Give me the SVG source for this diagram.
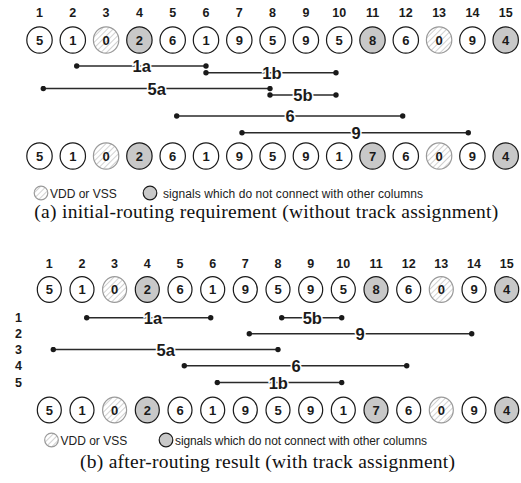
<svg xmlns="http://www.w3.org/2000/svg" width="521" height="483" viewBox="0 0 521 483">
<defs>
<pattern id="hatch" patternUnits="userSpaceOnUse" width="4" height="4" patternTransform="rotate(45)">
<rect width="4" height="4" fill="#fff"/>
<line x1="0" y1="0" x2="0" y2="4" stroke="#bdbdbd" stroke-width="1.4"/>
</pattern>
<marker id="dot" viewBox="0 0 6 6" refX="3" refY="3" markerWidth="6" markerHeight="6" markerUnits="userSpaceOnUse">
<circle cx="3" cy="3" r="2.7" fill="#1a1a1a"/>
</marker>
</defs>
<style>
.col{font-family:"Liberation Sans",Arial,sans-serif;font-weight:bold;font-size:12.5px;fill:#1a1a1a;text-anchor:middle}
.pin ellipse{fill:#fff;stroke:#1a1a1a;stroke-width:1.2}
.pin.g ellipse{fill:#c8c8c8}
.pin.h ellipse{fill:url(#hatch);stroke:#9a9a9a}
.pin text{font-family:"Liberation Sans",Arial,sans-serif;font-weight:bold;font-size:13px;fill:#1a1a1a;text-anchor:middle}
.seg line{stroke:#2a2a2a;stroke-width:1.4;marker-start:url(#dot);marker-end:url(#dot)}
.seg text{font-family:"Liberation Sans",Arial,sans-serif;font-weight:bold;font-size:16.5px;fill:#1a1a1a;text-anchor:middle;stroke:#fff;stroke-width:3;paint-order:stroke}
.trk{font-family:"Liberation Sans",Arial,sans-serif;font-weight:bold;font-size:12.5px;fill:#1a1a1a}
.leg{font-family:"Liberation Sans",Arial,sans-serif;font-size:12px;fill:#222}
.cap{font-family:"Liberation Serif","Times New Roman",serif;font-size:19.5px;fill:#111}
</style>

<!-- ===== (a) ===== -->
<g id="a-colnums" class="col">
<text x="39.5" y="16.5">1</text><text x="72.8" y="16.5">2</text><text x="106.1" y="16.5">3</text><text x="139.4" y="16.5">4</text><text x="172.7" y="16.5">5</text><text x="206" y="16.5">6</text><text x="239.3" y="16.5">7</text><text x="272.6" y="16.5">8</text><text x="305.9" y="16.5">9</text><text x="339.2" y="16.5">10</text><text x="372.5" y="16.5">11</text><text x="405.8" y="16.5">12</text><text x="439.1" y="16.5">13</text><text x="472.4" y="16.5">14</text><text x="505.7" y="16.5">15</text>
</g>
<g id="a-top">
<g id="a-t1" class="pin"><ellipse cx="39.5" cy="40" rx="12.7" ry="13.2"/><text x="39.5" y="44.7">5</text></g>
<g id="a-t2" class="pin"><ellipse cx="72.8" cy="40" rx="12.7" ry="13.2"/><text x="72.8" y="44.7">1</text></g>
<g id="a-t3" class="pin h"><ellipse cx="106.1" cy="40" rx="12.7" ry="13.2"/><text x="106.1" y="44.7">0</text></g>
<g id="a-t4" class="pin g"><ellipse cx="139.4" cy="40" rx="12.7" ry="13.2"/><text x="139.4" y="44.7">2</text></g>
<g id="a-t5" class="pin"><ellipse cx="172.7" cy="40" rx="12.7" ry="13.2"/><text x="172.7" y="44.7">6</text></g>
<g id="a-t6" class="pin"><ellipse cx="206" cy="40" rx="12.7" ry="13.2"/><text x="206" y="44.7">1</text></g>
<g id="a-t7" class="pin"><ellipse cx="239.3" cy="40" rx="12.7" ry="13.2"/><text x="239.3" y="44.7">9</text></g>
<g id="a-t8" class="pin"><ellipse cx="272.6" cy="40" rx="12.7" ry="13.2"/><text x="272.6" y="44.7">5</text></g>
<g id="a-t9" class="pin"><ellipse cx="305.9" cy="40" rx="12.7" ry="13.2"/><text x="305.9" y="44.7">9</text></g>
<g id="a-t10" class="pin"><ellipse cx="339.2" cy="40" rx="12.7" ry="13.2"/><text x="339.2" y="44.7">5</text></g>
<g id="a-t11" class="pin g"><ellipse cx="372.5" cy="40" rx="12.7" ry="13.2"/><text x="372.5" y="44.7">8</text></g>
<g id="a-t12" class="pin"><ellipse cx="405.8" cy="40" rx="12.7" ry="13.2"/><text x="405.8" y="44.7">6</text></g>
<g id="a-t13" class="pin h"><ellipse cx="439.1" cy="40" rx="12.7" ry="13.2"/><text x="439.1" y="44.7">0</text></g>
<g id="a-t14" class="pin"><ellipse cx="472.4" cy="40" rx="12.7" ry="13.2"/><text x="472.4" y="44.7">9</text></g>
<g id="a-t15" class="pin g"><ellipse cx="505.7" cy="40" rx="12.7" ry="13.2"/><text x="505.7" y="44.7">4</text></g>
</g>
<g id="a-connectors">
<g id="a-1a" class="seg"><line x1="76.7" y1="66" x2="206" y2="66"/><text x="141.7" y="72">1a</text></g>
<g id="a-1b" class="seg"><line x1="206" y1="72.7" x2="336" y2="72.7"/><text x="272" y="78.7">1b</text></g>
<g id="a-5a" class="seg"><line x1="43.3" y1="88.5" x2="270" y2="88.5"/><text x="156.7" y="94.5">5a</text></g>
<g id="a-5b" class="seg"><line x1="270" y1="95" x2="336" y2="95"/><text x="303" y="101">5b</text></g>
<g id="a-6" class="seg"><line x1="176.7" y1="116" x2="402.7" y2="116"/><text x="290" y="122">6</text></g>
<g id="a-9" class="seg"><line x1="242" y1="132.7" x2="468.3" y2="132.7"/><text x="356" y="138.7">9</text></g>
</g>
<g id="a-bottom">
<g id="a-b1" class="pin"><ellipse cx="39.5" cy="156" rx="12.7" ry="13.2"/><text x="39.5" y="160.7">5</text></g>
<g id="a-b2" class="pin"><ellipse cx="72.8" cy="156" rx="12.7" ry="13.2"/><text x="72.8" y="160.7">1</text></g>
<g id="a-b3" class="pin h"><ellipse cx="106.1" cy="156" rx="12.7" ry="13.2"/><text x="106.1" y="160.7">0</text></g>
<g id="a-b4" class="pin g"><ellipse cx="139.4" cy="156" rx="12.7" ry="13.2"/><text x="139.4" y="160.7">2</text></g>
<g id="a-b5" class="pin"><ellipse cx="172.7" cy="156" rx="12.7" ry="13.2"/><text x="172.7" y="160.7">6</text></g>
<g id="a-b6" class="pin"><ellipse cx="206" cy="156" rx="12.7" ry="13.2"/><text x="206" y="160.7">1</text></g>
<g id="a-b7" class="pin"><ellipse cx="239.3" cy="156" rx="12.7" ry="13.2"/><text x="239.3" y="160.7">9</text></g>
<g id="a-b8" class="pin"><ellipse cx="272.6" cy="156" rx="12.7" ry="13.2"/><text x="272.6" y="160.7">5</text></g>
<g id="a-b9" class="pin"><ellipse cx="305.9" cy="156" rx="12.7" ry="13.2"/><text x="305.9" y="160.7">9</text></g>
<g id="a-b10" class="pin"><ellipse cx="339.2" cy="156" rx="12.7" ry="13.2"/><text x="339.2" y="160.7">1</text></g>
<g id="a-b11" class="pin g"><ellipse cx="372.5" cy="156" rx="12.7" ry="13.2"/><text x="372.5" y="160.7">7</text></g>
<g id="a-b12" class="pin"><ellipse cx="405.8" cy="156" rx="12.7" ry="13.2"/><text x="405.8" y="160.7">6</text></g>
<g id="a-b13" class="pin h"><ellipse cx="439.1" cy="156" rx="12.7" ry="13.2"/><text x="439.1" y="160.7">0</text></g>
<g id="a-b14" class="pin"><ellipse cx="472.4" cy="156" rx="12.7" ry="13.2"/><text x="472.4" y="160.7">9</text></g>
<g id="a-b15" class="pin g"><ellipse cx="505.7" cy="156" rx="12.7" ry="13.2"/><text x="505.7" y="160.7">4</text></g>
</g>
<g id="a-legend">
<g class="pin h"><ellipse cx="41" cy="193" rx="6.8" ry="6.8"/></g>
<text class="leg" x="50" y="197.5">VDD or VSS</text>
<g class="pin g"><ellipse cx="150" cy="193" rx="6.8" ry="6.8"/></g>
<text class="leg" x="163" y="197.5" textLength="260" lengthAdjust="spacing">signals which do not connect with other columns</text>
</g>
<text id="a-caption" class="cap" x="34.3" y="218" textLength="464" lengthAdjust="spacing">(a) initial-routing requirement (without track assignment)</text>

<!-- ===== (b) ===== -->
<g id="b-colnums" class="col">
<text x="49.3" y="268">1</text><text x="82" y="268">2</text><text x="114.6" y="268">3</text><text x="147.3" y="268">4</text><text x="180" y="268">5</text><text x="212.7" y="268">6</text><text x="245.3" y="268">7</text><text x="278" y="268">8</text><text x="310.7" y="268">9</text><text x="343.3" y="268">10</text><text x="376" y="268">11</text><text x="408.7" y="268">12</text><text x="441.3" y="268">13</text><text x="474" y="268">14</text><text x="506.7" y="268">15</text>
</g>
<g id="b-top">
<g id="b-t1" class="pin"><ellipse cx="49.3" cy="289.5" rx="12" ry="12.8"/><text x="49.3" y="294.2">5</text></g>
<g id="b-t2" class="pin"><ellipse cx="82" cy="289.5" rx="12" ry="12.8"/><text x="82" y="294.2">1</text></g>
<g id="b-t3" class="pin h"><ellipse cx="114.6" cy="289.5" rx="12" ry="12.8"/><text x="114.6" y="294.2">0</text></g>
<g id="b-t4" class="pin g"><ellipse cx="147.3" cy="289.5" rx="12" ry="12.8"/><text x="147.3" y="294.2">2</text></g>
<g id="b-t5" class="pin"><ellipse cx="180" cy="289.5" rx="12" ry="12.8"/><text x="180" y="294.2">6</text></g>
<g id="b-t6" class="pin"><ellipse cx="212.7" cy="289.5" rx="12" ry="12.8"/><text x="212.7" y="294.2">1</text></g>
<g id="b-t7" class="pin"><ellipse cx="245.3" cy="289.5" rx="12" ry="12.8"/><text x="245.3" y="294.2">9</text></g>
<g id="b-t8" class="pin"><ellipse cx="278" cy="289.5" rx="12" ry="12.8"/><text x="278" y="294.2">5</text></g>
<g id="b-t9" class="pin"><ellipse cx="310.7" cy="289.5" rx="12" ry="12.8"/><text x="310.7" y="294.2">9</text></g>
<g id="b-t10" class="pin"><ellipse cx="343.3" cy="289.5" rx="12" ry="12.8"/><text x="343.3" y="294.2">5</text></g>
<g id="b-t11" class="pin g"><ellipse cx="376" cy="289.5" rx="12" ry="12.8"/><text x="376" y="294.2">8</text></g>
<g id="b-t12" class="pin"><ellipse cx="408.7" cy="289.5" rx="12" ry="12.8"/><text x="408.7" y="294.2">6</text></g>
<g id="b-t13" class="pin h"><ellipse cx="441.3" cy="289.5" rx="12" ry="12.8"/><text x="441.3" y="294.2">0</text></g>
<g id="b-t14" class="pin"><ellipse cx="474" cy="289.5" rx="12" ry="12.8"/><text x="474" y="294.2">9</text></g>
<g id="b-t15" class="pin g"><ellipse cx="506.7" cy="289.5" rx="12" ry="12.8"/><text x="506.7" y="294.2">4</text></g>
</g>
<g id="b-tracks" class="trk">
<text x="15" y="322">1</text><text x="15" y="338">2</text><text x="15" y="354">3</text><text x="15" y="370.2">4</text><text x="15" y="386.8">5</text>
</g>
<g id="b-connectors">
<g id="b-1a" class="seg"><line x1="86.7" y1="317.7" x2="210.7" y2="317.7"/><text x="153" y="323.7">1a</text></g>
<g id="b-5b" class="seg"><line x1="281.7" y1="317.7" x2="341.7" y2="317.7"/><text x="312.3" y="323.7">5b</text></g>
<g id="b-9" class="seg"><line x1="249.3" y1="333.7" x2="471.7" y2="333.7"/><text x="360" y="339.7">9</text></g>
<g id="b-5a" class="seg"><line x1="53.3" y1="349.5" x2="278" y2="349.5"/><text x="165.7" y="355.5">5a</text></g>
<g id="b-6" class="seg"><line x1="184.3" y1="365.7" x2="406.7" y2="365.7"/><text x="296" y="371.7">6</text></g>
<g id="b-1b" class="seg"><line x1="217.3" y1="382.5" x2="341.7" y2="382.5"/><text x="278.3" y="388.5">1b</text></g>
</g>
<g id="b-bottom">
<g id="b-b1" class="pin"><ellipse cx="49.3" cy="410" rx="12" ry="12.8"/><text x="49.3" y="414.7">5</text></g>
<g id="b-b2" class="pin"><ellipse cx="82" cy="410" rx="12" ry="12.8"/><text x="82" y="414.7">1</text></g>
<g id="b-b3" class="pin h"><ellipse cx="114.6" cy="410" rx="12" ry="12.8"/><text x="114.6" y="414.7">0</text></g>
<g id="b-b4" class="pin g"><ellipse cx="147.3" cy="410" rx="12" ry="12.8"/><text x="147.3" y="414.7">2</text></g>
<g id="b-b5" class="pin"><ellipse cx="180" cy="410" rx="12" ry="12.8"/><text x="180" y="414.7">6</text></g>
<g id="b-b6" class="pin"><ellipse cx="212.7" cy="410" rx="12" ry="12.8"/><text x="212.7" y="414.7">1</text></g>
<g id="b-b7" class="pin"><ellipse cx="245.3" cy="410" rx="12" ry="12.8"/><text x="245.3" y="414.7">9</text></g>
<g id="b-b8" class="pin"><ellipse cx="278" cy="410" rx="12" ry="12.8"/><text x="278" y="414.7">5</text></g>
<g id="b-b9" class="pin"><ellipse cx="310.7" cy="410" rx="12" ry="12.8"/><text x="310.7" y="414.7">9</text></g>
<g id="b-b10" class="pin"><ellipse cx="343.3" cy="410" rx="12" ry="12.8"/><text x="343.3" y="414.7">1</text></g>
<g id="b-b11" class="pin g"><ellipse cx="376" cy="410" rx="12" ry="12.8"/><text x="376" y="414.7">7</text></g>
<g id="b-b12" class="pin"><ellipse cx="408.7" cy="410" rx="12" ry="12.8"/><text x="408.7" y="414.7">6</text></g>
<g id="b-b13" class="pin h"><ellipse cx="441.3" cy="410" rx="12" ry="12.8"/><text x="441.3" y="414.7">0</text></g>
<g id="b-b14" class="pin"><ellipse cx="474" cy="410" rx="12" ry="12.8"/><text x="474" y="414.7">9</text></g>
<g id="b-b15" class="pin g"><ellipse cx="506.7" cy="410" rx="12" ry="12.8"/><text x="506.7" y="414.7">4</text></g>
</g>
<g id="b-legend">
<g class="pin h"><ellipse cx="51.5" cy="440" rx="6.8" ry="6.8"/></g>
<text class="leg" x="60.5" y="444.5">VDD or VSS</text>
<g class="pin g"><ellipse cx="166" cy="440" rx="6.8" ry="6.8"/></g>
<text class="leg" x="175" y="444.5" textLength="252" lengthAdjust="spacing">signals which do not connect with other columns</text>
</g>
<text id="b-caption" class="cap" x="80" y="468" textLength="375" lengthAdjust="spacing">(b) after-routing result (with track assignment)</text>
</svg>
